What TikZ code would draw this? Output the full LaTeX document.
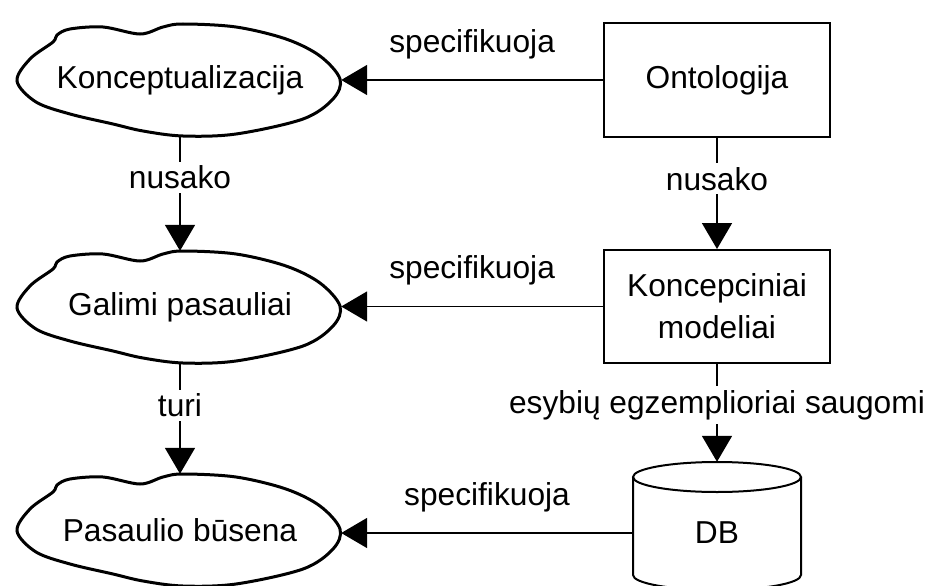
\documentclass[tikz,border=0pt]{standalone}
\usepackage{fontspec}
\setmainfont{Liberation Sans}
\usetikzlibrary{arrows.meta,shapes.geometric}
\newcommand{\mycloud}[1]{%
  \draw[cloudline,shift={(#1.center)}] plot[smooth cycle,tension=0.55] coordinates {
    (-163,1) (-150,-21) (-127,-38) (-123,-45) (-110,-51) (-77,-53) (-40,-46)
    (-17,-53) (3,-56) (56,-53) (106,-41) (140,-24) (160,-1) (153,19) (123,39)
    (56,54) (3,56) (-37,51) (-67,44) (-110,34) (-144,22)};}
\begin{document}
\begin{tikzpicture}[x=1pt,y=-1pt,
  every node/.style={font=\fontsize{31.7}{42}\selectfont},
  box/.style={draw,line width=2pt,minimum width=226pt,minimum height=113pt,align=center,inner sep=0pt},
  cloudnode/.style={rectangle,minimum width=322pt,minimum height=112pt,inner sep=0pt},
  cloudline/.style={line width=3pt},
  arr/.style={line width=1.8pt,-{Triangle[length=26pt,width=30pt]}},
  lbl/.style={fill=white,inner sep=4pt},
  toplbl/.style={midway,yshift=36pt},
]
\clip (0,0) rectangle (926,586);
\fill[white] (0,0) rectangle (926,586);

% clouds
\node[cloudnode] (c1) at (180,80) {Konceptualizacija};
\node[cloudnode] (c2) at (180,307) {Galimi pasauliai};
\node[cloudnode] (c3) at (180,530) {Pasaulio būsena};
\mycloud{c1}
\mycloud{c2}
\mycloud{c3}

% boxes
\node[box] (onto) at (717,80) {Ontologija};
\node[box] (kons) at (717,306.5) {Koncepciniai\\modeliai};

% database cylinder
\node[minimum width=168pt,minimum height=142pt,inner sep=0pt] (db) at (717,533) {DB};
\draw[line width=2pt] (717,477) ellipse [x radius=84, y radius=15];
\draw[line width=2pt] (633,477) -- (633,575) arc[start angle=180,end angle=0,x radius=84,y radius=15] -- (801,477);

% horizontal arrows
\draw[arr] (onto.west) -- node[toplbl]{specifikuoja} (onto.west -| c1.east);
\draw[arr] (kons.west) -- node[toplbl]{specifikuoja} (kons.west -| c2.east);
\draw[arr] (db.west) -- node[toplbl]{specifikuoja} (db.west -| c3.east);

% vertical arrows
\draw[arr] (c1.south) -- node[lbl,pos=0.36]{nusako} (c2.north);
\draw[arr] (c2.south) -- node[lbl,pos=0.38]{turi} (c3.north);
\draw[arr] (onto.south) -- node[lbl,pos=0.37]{nusako} (kons.north);
\draw[arr] (kons.south) -- node[lbl,pos=0.42]{esybių egzemplioriai saugomi} (db.north);
\end{tikzpicture}
\end{document}
